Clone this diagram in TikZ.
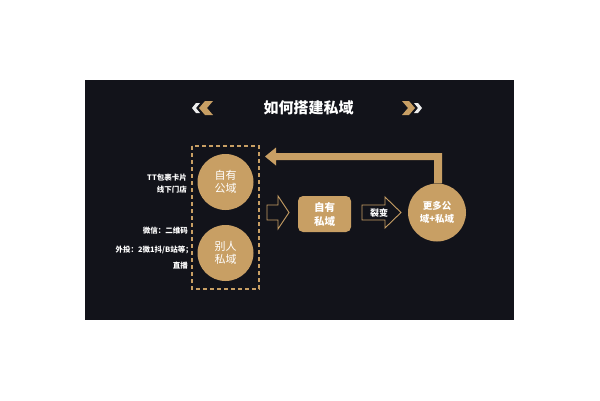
\documentclass[tikz,border=0pt]{standalone}
\usepackage{fontspec}
\setmainfont{Noto Sans CJK SC}
\definecolor{bg}{HTML}{12131A}
\definecolor{gold}{HTML}{C89F64}
\tikzset{
  gcircle/.style={circle, fill=gold, minimum size=56pt, inner sep=0pt, text=white, align=center},
  lefttxt/.style={anchor=east, text=white, font=\fontsize{7.5}{8}\selectfont\bfseries, inner sep=0pt},
  outarrow/.style={draw=gold, line width=0.9pt, fill=bg, line join=miter},
}
\begin{document}
\begin{tikzpicture}[x=1pt,y=-1pt]
\useasboundingbox (0,0) rectangle (600,400);
\fill[white] (0,0) rectangle (600,400);
\fill[bg] (85,80) rectangle (514,320);
% title
\node[text=white, font=\fontsize{15}{16}\selectfont\bfseries, inner sep=0pt] (title) at (308.5,108) {如何搭建私域};
% chevrons left
\fill[white!85!gray] (192,108) -- (196,103) -- (200,103) -- (196,108) -- (200,113) -- (196,113) -- cycle;
\fill[gold] (199,108) -- (205,101) -- (213,101) -- (207,108) -- (213,115) -- (205,115) -- cycle;
% chevrons right
\fill[gold] (402,101) -- (409,101) -- (415,108) -- (409,115) -- (402,115) -- (408,108) -- cycle;
\fill[white!85!gray] (414,103) -- (418,103) -- (422,108) -- (418,113) -- (414,113) -- (418,108) -- cycle;
% dashed group
\draw[gold, line width=1.3pt, dash pattern=on 4pt off 3pt] (192,146) rectangle (259,289);
\coordinate (grpE) at (259,217);
% circles
\node[gcircle, font=\fontsize{11}{12.5}\selectfont] (c1) at (225.5,182) {自有\\公域};
\node[gcircle, font=\fontsize{11}{12.5}\selectfont] (c2) at (225.5,253) {别人\\私域};
% left texts
\node[lefttxt] (t1) at (187,178) {TT包裹卡片};
\node[lefttxt] (t2) at (187,189.5) {线下门店};
\node[lefttxt] (t3) at (188,231) {微信：二维码};
\node[lefttxt] (t4) at (193,249.5) {外投：2微1抖/B站等；};
\node[lefttxt] (t5) at (188,265.5) {直播};
% outline arrow 1
\draw[outarrow] (267,205) -- (278,205) -- (278,196) -- (289,212.5) -- (278,229) -- (278,220) -- (267,220) -- cycle;
% box
\node[fill=gold, rounded corners=5pt, minimum width=53pt, minimum height=36pt, inner sep=0pt, text=white, align=center, font=\fontsize{10.5}{14}\selectfont\bfseries] (box) at (324.5,214) {自有\\私域};
% outline arrow 2
\draw[outarrow] (362,205) -- (385,205) -- (385,197) -- (401,212.5) -- (385,228) -- (385,220) -- (362,220) -- cycle;
\node[text=white, font=\fontsize{9}{10}\selectfont\bfseries, inner sep=0pt] (lb) at (379,213) {裂变};
% circle 3
\node[gcircle, minimum size=58pt, font=\fontsize{9.5}{13}\selectfont\bfseries] (c3) at (437,212.5) {更多公\\域+私域};
% big return arrow
\coordinate (tip) at (265,156.5);
\fill[gold] (c3.north -| 434,0) -- (434,160) -- (276,160) -- (276,165.5) -- (tip) -- (276,147.5) -- (276,153) -- (442,153) -- (c3.north -| 442,0) -- cycle;
\end{tikzpicture}
\end{document}
